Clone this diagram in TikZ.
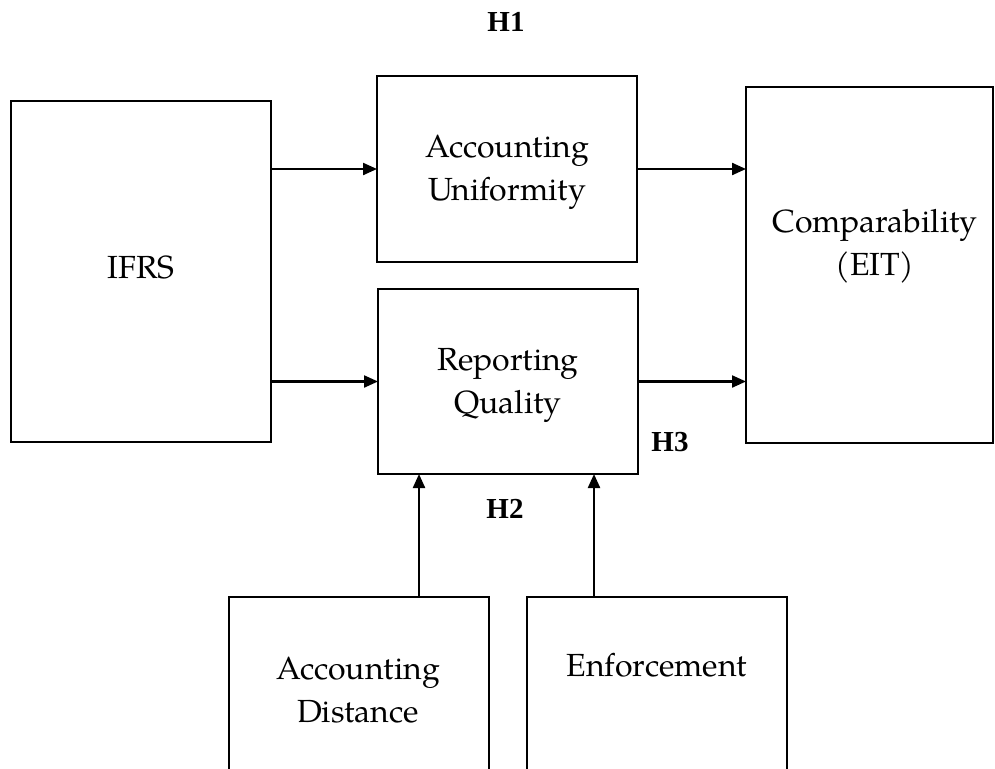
\documentclass[tikz,border=0pt]{standalone}
\usepackage{fontspec}
\setmainfont{TeX Gyre Pagella}
\newfontfamily\hfont{Liberation Serif}
\usetikzlibrary{arrows.meta}
\tikzset{
  box/.style={draw, line width=2.2pt, rectangle, inner sep=0pt, outer sep=0pt},
  lbl/.style={inner sep=0pt, align=center, font=\fontsize{32}{43}\selectfont},
  hyp/.style={inner sep=0pt, font=\hfont\bfseries\fontsize{29}{32}\selectfont},
  arr/.style={line width=2.2pt, -{Triangle[length=14pt,width=12pt]}}
}
\begin{document}
\begin{tikzpicture}[x=1pt,y=-1pt]
\useasboundingbox (0,0) rectangle (995,768);
\clip (0,0) rectangle (995,768);
% boxes
\node[box, minimum width=260pt, minimum height=341pt] (ifrs) at (141,271.5) {};
\node[lbl] (ifrstext) at (141,267) {IFRS};
\node[box, minimum width=260pt, minimum height=186pt] (unif) at (507,169) {};
\node[lbl] (uniftext) at (507,172) {Accounting\\Uniformity};
\node[box, minimum width=260pt, minimum height=185pt] (rep) at (508,381.5) {};
\node[lbl] (reptext) at (508,385) {Reporting\\Quality};
\node[box, minimum width=247pt, minimum height=356pt] (comp) at (869.5,265) {};
\node[lbl] (comptext) at (875,246) {Comparability\\(EIT)};
\node[box, minimum width=260pt, minimum height=250pt] (dist) at (359,722) {};
\node[lbl] (disttext) at (358,690) {Accounting\\Distance};
\node[box, minimum width=260pt, minimum height=250pt] (enf) at (657,722) {};
\node[lbl] (enftext) at (657,665) {Enforcement};
% hypothesis labels
\node[hyp] (h1) at (506,22) {H1};
\node[hyp] (h2) at (505,509) {H2};
\node[hyp] (h3) at (670,442) {H3};
% connectors
\draw[arr] (ifrs.east |- unif.west) -- (unif.west);
\draw[arr] (ifrs.east |- rep.west) -- (rep.west);
\draw[arr] (unif.east) -- (comp.west |- unif.east);
\draw[arr] (rep.east) -- (comp.west |- rep.east);
\coordinate (da) at ([xshift=190pt]dist.north west);
\coordinate (ea) at ([xshift=67pt]enf.north west);
\draw[arr] (da) -- (da |- rep.south);
\draw[arr] (ea) -- (ea |- rep.south);
\end{tikzpicture}
\end{document}
